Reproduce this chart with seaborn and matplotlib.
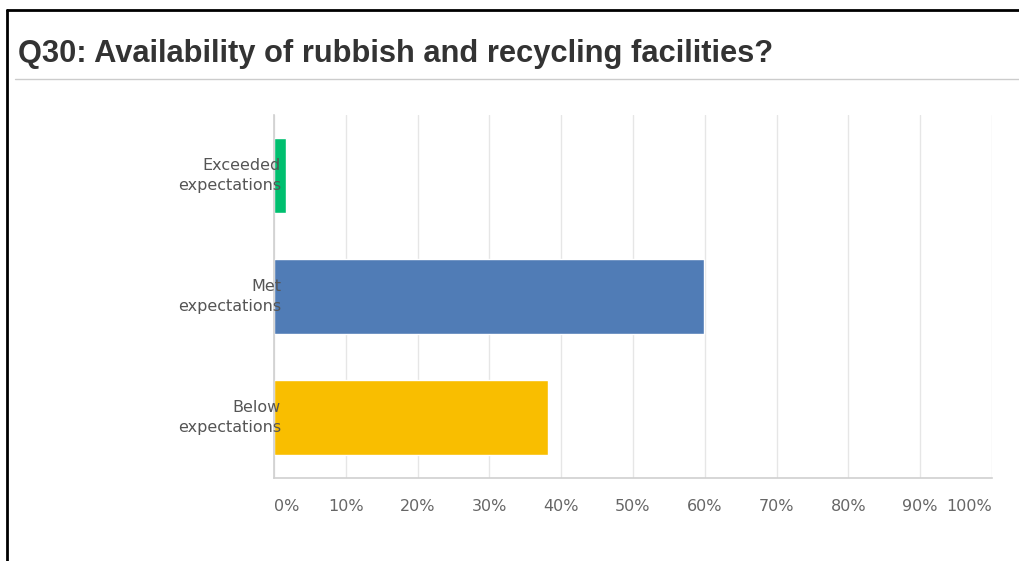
import matplotlib
matplotlib.use("Agg")
import matplotlib.pyplot as plt
from matplotlib.lines import Line2D
from matplotlib.ticker import FixedLocator
from matplotlib.transforms import blended_transform_factory, offset_copy
import seaborn as sns
import pandas as pd

categories = ["Exceeded\nexpectations", "Met\nexpectations", "Below\nexpectations"]
values = [1.64, 59.9, 38.2]
colors = ["#00BF6F", "#507CB6", "#F9BE00"]
xticks = [0, 10, 20, 30, 40, 50, 60, 70, 80, 90, 100]
xticklabels = ["0%", "10%", "20%", "30%", "40%", "50%", "60%", "70%", "80%", "90%", "100%"]
title = "Q30: Availability of rubbish and recycling facilities?"

sns.set_style("white")
plt.rcParams["font.family"] = ["DejaVu Sans"]

W, H = 1019, 561
fig = plt.figure(figsize=(W / 100, H / 100), dpi=100)
ax = fig.add_axes([274 / W, 1 - 478 / H, (992 - 274) / W, (478 - 115) / H])

df = pd.DataFrame({"cat": categories, "val": values})
sns.barplot(data=df, x="val", y="cat", hue="cat", palette=colors, orient="h",
            width=0.625, legend=False, ax=ax, saturation=1)

ax.set_xlim(0, 100)
ax.set_ylim(2.5, -0.5)
ax.xaxis.set_major_locator(FixedLocator(xticks))
ax.set_xticklabels(xticklabels)
ax.grid(axis="x", color="#e6e6e6", linewidth=1)
ax.set_axisbelow(True)
for s in ["top", "right"]:
    ax.spines[s].set_visible(False)
for s in ["left", "bottom"]:
    ax.spines[s].set_color("#d0d0d0")
    ax.spines[s].set_linewidth(1.2)
ax.set_xlabel("")
ax.set_ylabel("")
ax.tick_params(axis="x", length=0, pad=15, labelsize=11.5, labelcolor="#666666")
ax.tick_params(axis="y", length=0, labelleft=False)
xl = ax.get_xticklabels()
xl[0].set_horizontalalignment("left")
xl[-1].set_horizontalalignment("right")

# category labels drawn above the bars (as in the reference)
trans = offset_copy(blended_transform_factory(ax.transAxes, ax.transData),
                    fig=fig, x=7, y=0, units="dots")
for i, cat in enumerate(categories):
    ax.text(0, i, cat, transform=trans, ha="right", va="center", multialignment="right",
            fontsize=11.5, color="#555555", linespacing=1.45, zorder=10, clip_on=False)

fig.text(18 / W, 1 - 54 / H, title, family=["Liberation Sans", "DejaVu Sans"],
         fontsize=22.2, fontweight="bold", color="#333333", va="center", ha="left")
fig.add_artist(Line2D([15 / W, 1], [1 - 79 / H, 1 - 79 / H], color="#cccccc", linewidth=1))
fig.add_artist(Line2D([7 / W, 7 / W], [0, 1 - 10 / H], color="black", linewidth=2))
fig.add_artist(Line2D([7 / W, 1], [1 - 10 / H, 1 - 10 / H], color="black", linewidth=2))

fig.savefig("out.png", dpi=100)
